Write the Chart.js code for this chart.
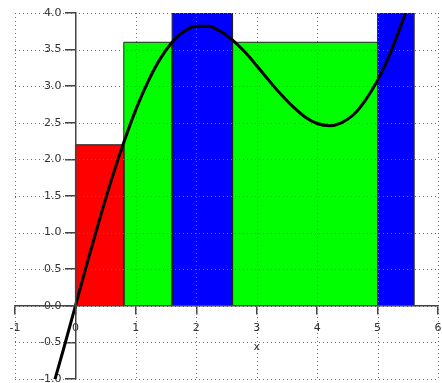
<!DOCTYPE html>
<html>
<head>
<meta charset="utf-8">
<script src="https://cdn.jsdelivr.net/npm/chart.js@4.4.1/dist/chart.umd.min.js"></script>
<style>
  html, body { margin: 0; padding: 0; background: #fff; }
  #wrap { width: 442px; height: 383px; }
</style>
</head>
<body>
<div id="wrap"><canvas id="c"></canvas></div>
<script>
// Sub-interval edges and the height of the step drawn over each one
const stepEdges = [0, 0.8, 1.6, 2.6, 5.0, 5.6];
const stepHeights = [2.2, 3.6, 4.3, 3.6, 4.4];
const stepColors = ['#ff0000', '#00ff00', '#0000ff', '#00ff00', '#0000ff'];

// Sampled points of the curve
const curveX = [-0.4, -0.2, 0, 0.2, 0.4, 0.6, 0.8, 1.0, 1.2, 1.4, 1.6, 1.8, 2.0, 2.2, 2.4, 2.6,
                2.8, 3.0, 3.2, 3.4, 3.6, 3.8, 4.0, 4.2, 4.4, 4.6, 4.8, 5.0, 5.2, 5.4, 5.6, 5.8];
const curveY = [-1.18, -0.60, 0.00, 0.60, 1.18, 1.73, 2.23, 2.68, 3.06, 3.37, 3.60, 3.75, 3.82, 3.82, 3.75, 3.63,
                3.47, 3.28, 3.08, 2.89, 2.72, 2.58, 2.49, 2.46, 2.50, 2.61, 2.81, 3.08, 3.43, 3.86, 4.34, 4.87];

// Axis tick values
const xTicks = [-1, 0, 1, 2, 3, 4, 5, 6];
const yTicks = [-1.0, -0.5, 0.0, 0.5, 1.0, 1.5, 2.0, 2.5, 3.0, 3.5, 4.0];

const AXIS_COLOR = '#444';
const TICK_FONT = { family: 'DejaVu Sans', size: 11 };

// Linear scale for axes that cross at the origin: keeps the plot area
// fixed to the layout padding and sets vertical labels off beside the ticks.
class AxisCrossScale extends Chart.LinearScale {
  getPadding() { return { left: 0, right: 0, top: 0, bottom: 0 }; }
  _computeLabelItems(chartArea) {
    const items = super._computeLabelItems(chartArea);
    if (!this.isHorizontal()) {
      const shift = this.options.grid.tickLength + this.options.ticks.padding;
      items.forEach(it => { it.options.translation[0] -= shift; });
    }
    return items;
  }
}
AxisCrossScale.id = 'axisCross';
AxisCrossScale.defaults = Chart.LinearScale.defaults;
Chart.register(AxisCrossScale);

const curveDataset = {
  type: 'line',
  data: curveX.map((x, i) => ({ x, y: curveY[i] })),
  borderColor: '#000',
  borderWidth: 3,
  pointRadius: 0,
  fill: false,
  cubicInterpolationMode: 'monotone',
  clip: 0
};

const stepDatasets = stepHeights.map((h, i) => {
  const a = stepEdges[i], b = stepEdges[i + 1];
  return {
    type: 'line',
    data: [{ x: a, y: 0 }, { x: a, y: h }, { x: b, y: h }, { x: b, y: 0 }],
    backgroundColor: stepColors[i],
    borderColor: '#222',
    borderWidth: 1,
    pointRadius: 0,
    tension: 0,
    fill: 'origin',
    clip: 0
  };
});

// Dotted grid laid over the filled steps, beneath the curve
const dottedGrid = {
  id: 'dottedGrid',
  beforeDatasetDraw(chart, args) {
    if (args.index !== 0) return;
    const { ctx, chartArea: a, scales: { x, y } } = chart;
    ctx.save();
    ctx.strokeStyle = '#6a6a6a';
    ctx.lineWidth = 1;
    ctx.setLineDash([1, 3]);
    ctx.beginPath();
    xTicks.forEach(v => {
      const px = Math.round(x.getPixelForValue(v)) + 0.5;
      ctx.moveTo(px, a.top);
      ctx.lineTo(px, a.bottom);
    });
    yTicks.forEach(v => {
      const py = Math.round(y.getPixelForValue(v)) + 0.5;
      ctx.moveTo(a.left, py);
      ctx.lineTo(a.right, py);
    });
    ctx.stroke();
    ctx.restore();
  }
};

// Axis name under the x tick labels
const axisName = {
  id: 'axisName',
  afterDraw(chart) {
    const { ctx, scales: { x, y } } = chart;
    ctx.save();
    ctx.fillStyle = '#333';
    ctx.font = '11px "DejaVu Sans"';
    ctx.textAlign = 'center';
    ctx.textBaseline = 'middle';
    ctx.fillText('x', x.getPixelForValue(3), y.getPixelForValue(0) + 41);
    ctx.restore();
  }
};

new Chart(document.getElementById('c'), {
  type: 'line',
  data: { datasets: [curveDataset, ...stepDatasets] },
  options: {
    responsive: true,
    maintainAspectRatio: false,
    animation: false,
    layout: { padding: { left: 15, right: 4, top: 13, bottom: 4 } },
    plugins: { legend: { display: false }, tooltip: { enabled: false } },
    scales: {
      x: {
        type: 'axisCross',
        min: -1, max: 6,
        position: { y: 0 },
        afterBuildTicks: s => { s.ticks = xTicks.map(v => ({ value: v })); },
        grid: { display: true, drawOnChartArea: false, drawTicks: true, tickLength: 8, color: AXIS_COLOR, lineWidth: 1.5 },
        border: { display: true, color: AXIS_COLOR, width: 1.5, z: 1 },
        ticks: { color: '#333', font: TICK_FONT, padding: 8, maxRotation: 0, autoSkip: false, callback: v => String(v) }
      },
      y: {
        type: 'axisCross',
        min: -1, max: 4,
        position: { x: 0 },
        afterBuildTicks: s => { s.ticks = yTicks.map(v => ({ value: v })); },
        grid: { display: true, drawOnChartArea: false, drawTicks: true, tickLength: 10, color: AXIS_COLOR, lineWidth: 1.5 },
        border: { display: true, color: AXIS_COLOR, width: 1.5, z: 1 },
        ticks: { color: '#333', font: TICK_FONT, padding: 4, autoSkip: false, callback: v => Number(v).toFixed(1) }
      }
    }
  },
  plugins: [dottedGrid, axisName]
});
</script>
</body>
</html>
